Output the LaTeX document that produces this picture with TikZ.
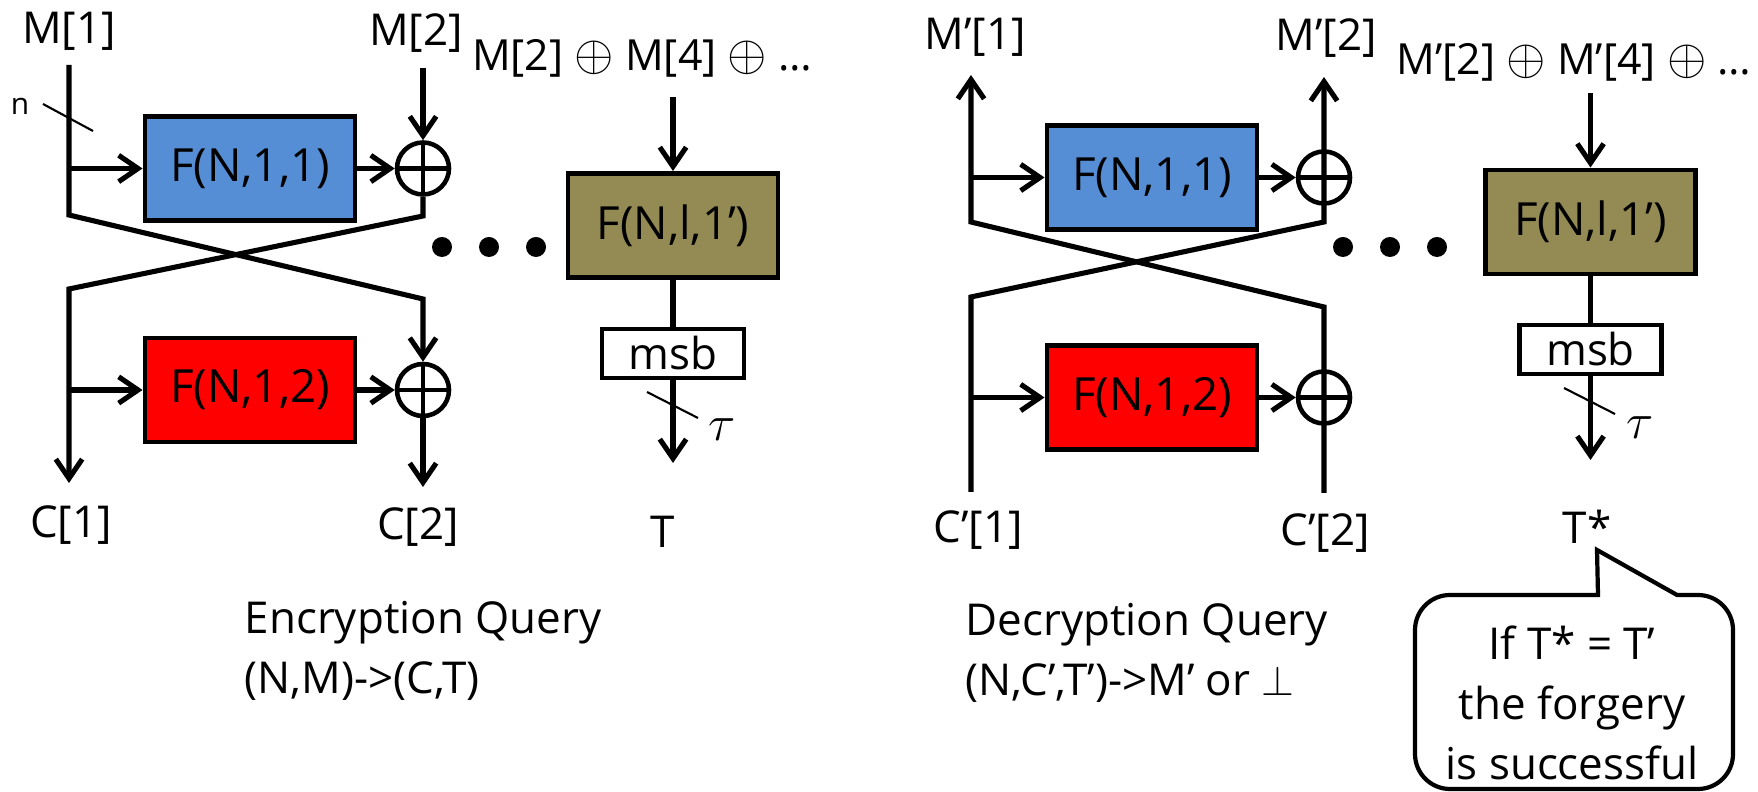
\documentclass[tikz,border=0pt]{standalone}
\usepackage{fontspec}
\setmainfont{Open Sans}
\usetikzlibrary{arrows.meta}
\definecolor{fblue}{HTML}{558ED5}
\definecolor{fred}{HTML}{FF0000}
\definecolor{folive}{HTML}{948A54}
\newcommand{\bigxor}{{\fontsize{14.4}{14.4}\selectfont$\oplus$}}
\begin{document}
\begin{tikzpicture}[
    wire/.style={line width=1.45pt},
    arr/.style={wire, -{Straight Barb[length=5.5pt,width=7.5pt]}},
    fbox/.style={draw, line width=1.4pt, minimum width=2.1cm, minimum height=1.04cm,
      inner sep=0pt, font=\fontsize{13}{15}\selectfont},
    msbbox/.style={draw, line width=1.4pt, fill=white, minimum width=1.42cm,
      minimum height=0.49cm, inner sep=0pt, font=\fontsize{12.5}{15}\selectfont},
    xor/.style={circle, draw, line width=1.3pt, fill=white, minimum size=0.52cm, inner sep=0pt,
      path picture={\draw[line width=1.3pt] (path picture bounding box.north) -- (path picture bounding box.south)
        (path picture bounding box.west) -- (path picture bounding box.east);}},
    lbl/.style={inner sep=0pt, font=\fontsize{12.5}{17}\selectfont},
    sumlbl/.style={inner sep=0pt, font=\fontsize{12.2}{15}\selectfont},
    tick/.style={line width=0.6pt},
    taulbl/.style={inner sep=0pt, font=\fontsize{15}{15}\selectfont}]
  \useasboundingbox (0,0) rectangle (17.58,-7.92);

  \node[lbl] (m1) at (0.69,-0.31) {M[1]};
  \node[lbl] (m2) at (4.16,-0.33) {M[2]};
  \node[fbox, fill=fblue] (f11) at (2.50,-1.685) {F(N,1,1)};
  \node[fbox, fill=fred] (f12) at (2.50,-3.90) {F(N,1,2)};
  \node[xor] (x11) at (4.23,-1.685) {};
  \node[xor] (x12) at (4.23,-3.90) {};
  \coordinate (m1in) at (0.69,-0.65);
  \coordinate (m2in) at (4.23,-0.68);
  \coordinate (l1) at (0.69,-2.15);
  \coordinate (r1) at (4.23,-2.16);
  \coordinate (l2) at (0.69,-2.89);
  \coordinate (r2) at (4.23,-2.99);
  \coordinate (c1out) at (0.69,-4.83);
  \coordinate (c2out) at (4.23,-4.87);
  \draw[arr] (m1in) -- (l1) -- (r2) -- (x12.north);
  \draw[arr] (m2in) -- (x11.north);
  \draw[arr] (x11.south) -- (r1) -- (l2) -- (c1out);
  \draw[arr] (m1in |- f11) -- (f11);
  \draw[arr] (f11) -- (x11);
  \draw[arr] (l2 |- f12) -- (f12);
  \draw[arr] (f12) -- (x12);
  \draw[arr] (x12.south) -- (c2out);
  \node[lbl] (c1) at (0.71,-5.25) {C[1]};
  \node[lbl] (c2) at (4.18,-5.27) {C[2]};
  \node[inner sep=0pt, font=\fontsize{8.5}{10}\selectfont] (nl) at (0.20,-1.06) {n};
  \draw[tick] (0.43,-1.04) -- (0.93,-1.31);

  \foreach \x in {4.42,4.89,5.36} \fill (\x,-2.47) circle (0.10);

  \node[fbox, fill=folive] (fl) at (6.73,-2.255) {F(N,l,1’)};
  \node[sumlbl] (sum) at (6.42,-0.58) {M[2] \bigxor{} M[4] \bigxor{} \ldots};
  \coordinate (sumin) at (6.73,-0.97);
  \draw[arr] (sumin) -- (fl);
  \node[msbbox] (msb) at (6.73,-3.535) {msb};
  \draw[wire] (fl) -- (msb);
  \coordinate (tout) at (6.73,-4.63);
  \draw[arr] (msb) -- (tout);
  \draw[tick] (6.47,-3.92) -- (6.98,-4.18);
  \node[taulbl] (tau) at (7.22,-4.30) {$\tau$};
  \node[lbl] (t) at (6.63,-5.32) {T};

  \node[lbl, align=left, anchor=north west] (enc) at (2.44,-6.01) {Encryption Query\\(N,M)->(C,T)};

  \node[lbl] (dm1) at (9.75,-0.37) {M’[1]};
  \node[lbl] (dm2) at (13.26,-0.38) {M’[2]};
  \node[fbox, fill=fblue] (f21) at (11.52,-1.775) {F(N,1,1)};
  \node[fbox, fill=fred] (f22) at (11.52,-3.975) {F(N,1,2)};
  \node[xor] (x21) at (13.24,-1.775) {};
  \node[xor] (x22) at (13.24,-3.975) {};
  \coordinate (dm1out) at (9.71,-0.75);
  \coordinate (dm2out) at (13.24,-0.77);
  \coordinate (dl1) at (9.71,-2.22);
  \coordinate (dr1) at (13.24,-2.22);
  \coordinate (dl2) at (9.71,-2.97);
  \coordinate (dr2) at (13.24,-3.07);
  \coordinate (dc1in) at (9.71,-4.92);
  \coordinate (dc2in) at (13.24,-4.93);
  \draw[arr] (dc2in) -- (dr2) -- (dl1) -- (dm1out);
  \draw[arr] (dc1in) -- (dl2) -- (dr1) -- (dm2out);
  \draw[arr] (dl1 |- f21) -- (f21);
  \draw[arr] (f21) -- (x21);
  \draw[arr] (dl2 |- f22) -- (f22);
  \draw[arr] (f22) -- (x22);
  \node[lbl] (dc1) at (9.78,-5.30) {C’[1]};
  \node[lbl] (dc2) at (13.25,-5.33) {C’[2]};

  \foreach \x in {13.43,13.90,14.37} \fill (\x,-2.47) circle (0.10);

  \node[fbox, fill=folive] (dfl) at (15.905,-2.22) {F(N,l,1’)};
  \node[sumlbl] (dsum) at (15.74,-0.62) {M’[2] \bigxor{} M’[4] \bigxor{} \ldots};
  \coordinate (dsumin) at (15.905,-0.93);
  \draw[arr] (dsumin) -- (dfl);
  \node[msbbox] (dmsb) at (15.905,-3.495) {msb};
  \draw[wire] (dfl) -- (dmsb);
  \coordinate (dtout) at (15.905,-4.60);
  \draw[arr] (dmsb) -- (dtout);
  \draw[tick] (15.64,-3.88) -- (16.15,-4.14);
  \node[taulbl] (dtau) at (16.40,-4.28) {$\tau$};
  \node[lbl] (ts) at (15.87,-5.27) {T*};

  \node[lbl, align=left, anchor=north west] (dec) at (9.65,-6.03) {Decryption Query\\(N,C’,T’)->M’ or $\perp$};

  \draw[line width=1.2pt] (15.97,-5.50) -- (16.77,-5.95) [rounded corners=0.35cm] -- (17.33,-5.95)
    -- (17.33,-7.89) -- (14.15,-7.89) -- (14.15,-5.95) [sharp corners] -- (15.98,-5.95) -- cycle;
  \node[lbl, align=center] (forge) at (15.72,-7.03) {If T* = T’\\the forgery\\is successful};
\end{tikzpicture}
\end{document}
